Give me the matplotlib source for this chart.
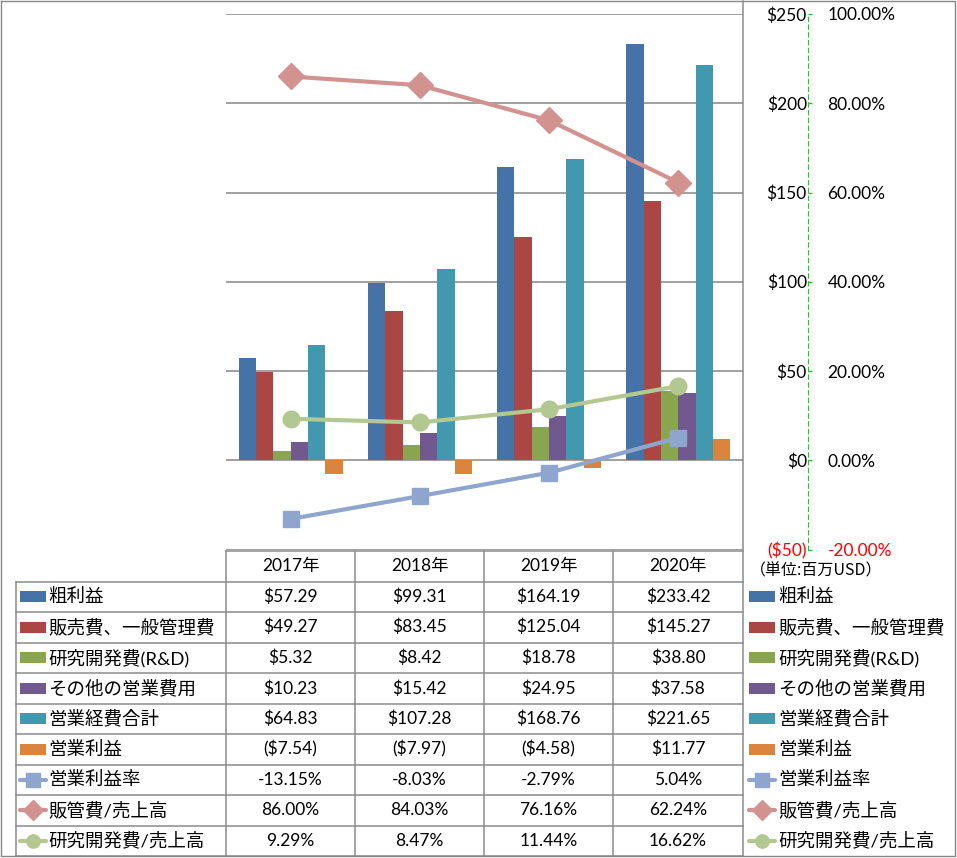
import numpy as np
import matplotlib.pyplot as plt

plt.rcParams['font.family'] = ['Lato', 'Noto Sans CJK JP', 'DejaVu Sans']

# data
years = ['2017年', '2018年', '2019年', '2020年']
bar_names = ['粗利益', '販売費、一般管理費', '研究開発費(R&D)', 'その他の営業費用', '営業経費合計', '営業利益']
gross = [57.29, 99.31, 164.19, 233.42]
sga = [49.27, 83.45, 125.04, 145.27]
rnd = [5.32, 8.42, 18.78, 38.80]
other = [10.23, 15.42, 24.95, 37.58]
opex = [64.83, 107.28, 168.76, 221.65]
op_income = [-7.54, -7.97, -4.58, 11.77]
line_names = ['営業利益率', '販管費/売上高', '研究開発費/売上高']
op_margin = [-13.15, -8.03, -2.79, 5.04]
sga_ratio = [86.00, 84.03, 76.16, 62.24]
rnd_ratio = [9.29, 8.47, 11.44, 16.62]

bar_series = [gross, sga, rnd, other, opex, op_income]
line_series = [op_margin, sga_ratio, rnd_ratio]
bar_colors = ['#4572A7', '#AA4643', '#89A54E', '#71588F', '#4198AF', '#DB843D']
line_colors = ['#8EA6CE', '#D29290', '#B3C890']
line_markers = ['s', 'D', 'o']
line_ms = [12, 13, 12]

W, H = 957, 858
fig = plt.figure(figsize=(W / 100, H / 100), dpi=100)

# overlay in pixel coordinates for the data table
tab = fig.add_axes([0, 0, 1, 1])
tab.set_xlim(0, W)
tab.set_ylim(H, 0)
tab.axis('off')

grid_c = '#8C8C8C'
cols = [16, 226, 355, 484, 613, 743]
top = 551
rh = 30.5
nrows = 10
bottom = top + rh * nrows

tab.plot([226, 743], [top, top], color=grid_c, lw=1.1)
for k in range(1, nrows + 1):
    y = top + rh * k
    tab.plot([16, 743], [y, y], color=grid_c, lw=1.1)
tab.plot([16, 16], [top + rh, bottom], color=grid_c, lw=1.1)
for cx in cols[1:-1]:
    tab.plot([cx, cx], [top, bottom], color=grid_c, lw=1.1)
tab.plot([743, 743], [1, bottom], color=grid_c, lw=1.1)
# outer border
tab.plot([1, 955, 955, 1, 1], [1, 1, 856, 856, 1], color='#888888', lw=1.0)

num_fs = 12.5
lab_fs = 13.3

# header
for j, yr in enumerate(years):
    tab.text((cols[j + 1] + cols[j + 2]) / 2, top + rh / 2, yr, ha='center', va='center', fontsize=num_fs)


def money(v):
    return f'(${abs(v):.2f})' if v < 0 else f'${v:.2f}'


def draw_key(x0, yc, i):
    if i < len(bar_series):
        tab.add_patch(plt.Rectangle((x0, yc - 5.5), 26, 11, color=bar_colors[i], lw=0))
    else:
        li = i - len(bar_series)
        tab.plot([x0, x0 + 26], [yc, yc], color=line_colors[li], lw=3, solid_capstyle='round')
        tab.plot([x0 + 13], [yc], marker=line_markers[li], ms=line_ms[li] * 0.8,
                 color=line_colors[li], mec=line_colors[li])


names = bar_names + line_names
for i, name in enumerate(names):
    yc = top + rh * (i + 1.5)
    draw_key(20, yc, i)
    tab.text(48, yc, name, ha='left', va='center', fontsize=lab_fs)
    draw_key(749, yc, i)
    tab.text(778, yc, name, ha='left', va='center', fontsize=lab_fs)
    if i < len(bar_series):
        vals = [money(v) for v in bar_series[i]]
    else:
        vals = [f'{v:.2f}%' for v in line_series[i - len(bar_series)]]
    for j, s in enumerate(vals):
        tab.text((cols[j + 1] + cols[j + 2]) / 2, yc, s, ha='center', va='center', fontsize=num_fs)

tab.text(750, 571, '（単位:百万USD）', ha='left', va='center', fontsize=11.5,
         family=['Noto Sans CJK JP', 'DejaVu Sans'])

# main chart
ax = fig.add_axes([226 / W, 1 - 549.5 / H, (743 - 226) / W, (549.5 - 14) / H])
ax.set_facecolor('none')
x = np.arange(len(years))
bw = 0.134
for i, (vals, c) in enumerate(zip(bar_series, bar_colors)):
    ax.bar(x + (i - 2.5) * bw, vals, width=bw, color=c, zorder=3)

ax.set_xlim(-0.5, 3.5)
ax.set_ylim(-50, 250)
yt = np.arange(-50, 251, 50)
ax.set_yticks(yt)
ax.set_yticklabels([f'(${-v})' if v < 0 else f'${v}' for v in yt])
ax.set_xticks([])
ax.yaxis.grid(True, color='#868686', lw=1.1)
ax.set_axisbelow(True)
for s in ax.spines.values():
    s.set_visible(False)

ax2 = ax.twinx()
for i, (vals, c) in enumerate(zip(line_series, line_colors)):
    ax2.plot(x, vals, color=c, lw=3, marker=line_markers[i], ms=line_ms[i],
             mec=c, solid_capstyle='round', zorder=4)
ax2.set_ylim(-20, 100)
pt = np.arange(-20, 101, 20)
ax2.set_yticks(pt)
ax2.set_yticklabels([f'{v:.2f}%' for v in pt])
ax2.tick_params(axis='y', direction='out', length=3, width=1, color='#22CC22',
                pad=11, labelsize=num_fs)
for k in ['left', 'top', 'bottom']:
    ax2.spines[k].set_visible(False)
ax2.spines['right'].set_position(('outward', 46.8))
ax2.spines['right'].set_color('#22CC22')
ax2.spines['right'].set_linestyle((0, (4, 3)))
ax2.spines['right'].set_linewidth(0.8)

# primary labels on the right, right-aligned next to the dashed axis
ax.yaxis.tick_right()
ax.tick_params(axis='y', which='both', left=False, right=False,
               labelleft=False, labelright=True, pad=42.5, labelsize=num_fs)
for t in ax.yaxis.get_major_ticks():
    t.label2.set_horizontalalignment('right')
ax.yaxis.get_major_ticks()[0].label2.set_color('#FF0000')
ax2.yaxis.get_major_ticks()[0].label2.set_color('#FF0000')

fig.savefig('out.png', dpi=100)
